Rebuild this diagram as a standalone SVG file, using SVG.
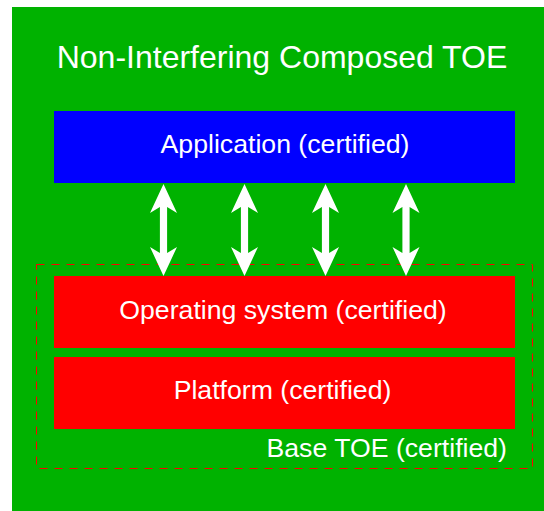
<svg xmlns="http://www.w3.org/2000/svg" width="544" height="511" viewBox="0 0 544 511">
<style>
text{font-family:"Liberation Sans",Arial,sans-serif;fill:#fff;font-size:26.67px}
.arrow{fill:#fff}
</style>
<defs>
<path id="dbl" d="M0,0 L13.5,29 L3.6,23 L3.6,69 L13.5,63 L0,92 L-13.5,63 L-3.6,69 L-3.6,23 L-13.5,29 Z"/>
</defs>
<rect width="544" height="511" fill="#fff"/>
<g id="composed-toe">
<rect x="12" y="7" width="532" height="504" fill="#00b200"/>
<text x="282" y="68" text-anchor="middle" style="font-size:32px">Non-Interfering Composed TOE</text>
</g>
<g id="application">
<rect x="54" y="111" width="461" height="72" fill="#0000ff"/>
<text x="285" y="153" text-anchor="middle">Application (certified)</text>
</g>
<g id="base-toe">
<rect x="36.5" y="264.5" width="496" height="204" fill="none" stroke="#ff0000" stroke-width="1" stroke-dasharray="8 7"/>
<text x="507" y="457" text-anchor="end">Base TOE (certified)</text>
</g>
<g id="operating-system">
<rect x="54" y="276" width="461" height="72" fill="#ff0000"/>
<text x="283" y="319" text-anchor="middle">Operating system (certified)</text>
</g>
<g id="platform">
<rect x="54" y="357" width="461" height="72" fill="#ff0000"/>
<text x="282.5" y="399" text-anchor="middle">Platform (certified)</text>
</g>
<g id="connectors" class="arrow">
<use href="#dbl" x="163.5" y="184"/>
<use href="#dbl" x="244.5" y="184"/>
<use href="#dbl" x="325.5" y="184"/>
<use href="#dbl" x="406" y="184"/>
</g>
</svg>
